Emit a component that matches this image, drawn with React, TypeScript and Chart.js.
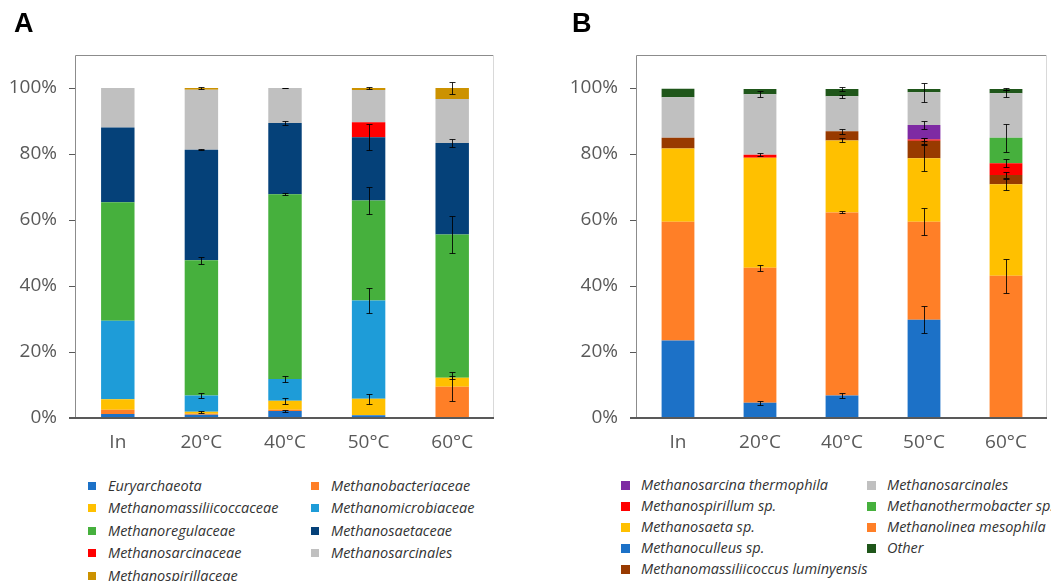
import React, { useEffect, useRef } from "react";
import { Chart, registerables } from "chart.js";
Chart.register(...registerables);

// ---------- shared ----------
const categories = ["In", "20°C", "40°C", "50°C", "60°C"];
const yMax = 110;
const yStep = 20;

// ---------- Panel A (family level), % abundance per stacked segment ----------
const euryarchaeota = [1.2, 1.0, 2.1, 0.8, 0];
const methanobacteriaceae = [1.3, 0.3, 0.4, 0, 9.5];
const methanomassiliicoccaceae = [3.2, 0.6, 2.7, 5.0, 2.7];
const methanomicrobiaceae = [23.8, 4.9, 6.6, 29.8, 0];
const methanoregulaceae = [35.9, 41.0, 56.0, 30.3, 43.4];
const methanosaetaceae = [22.6, 33.5, 21.6, 19.2, 27.7];
const methanosarcinaceae = [0, 0, 0, 4.5, 0];
const methanosarcinalesA = [12.0, 18.2, 10.6, 9.8, 13.4];
const methanospirillaceae = [0, 0.5, 0, 0.6, 3.3];

// error bars (± half-length), drawn at the top of each segment
const euryarchaeotaErr = [0, 0, 0.2, 0, 0];
const methanobacteriaceaeErr = [0, 0, 0, 0, 4.3];
const methanomassiliicoccaceaeErr = [0, 0.3, 1.0, 1.6, 0.5];
const methanomicrobiaceaeErr = [0, 0.7, 0.8, 3.7, 0];
const methanoregulaceaeErr = [0, 1.0, 0.3, 4.2, 5.6];
const methanosaetaceaeErr = [0, 0.2, 0.5, 4.0, 1.3];
const methanosarcinaceaeErr = [0, 0, 0, 0, 0];
const methanosarcinalesAErr = [0, 0, 0.1, 0, 0];
const methanospirillaceaeErr = [0, 0.3, 0, 0.3, 1.8];

// ---------- Panel B (species level) ----------
const methanoculleus = [23.5, 4.6, 6.8, 29.8, 0];
const methanolinea = [36.0, 40.9, 55.5, 29.7, 43.1];
const methanosaeta = [22.2, 33.4, 21.8, 19.2, 27.7];
const methanomassiliicoccusLum = [3.2, 0, 2.8, 5.3, 2.8];
const methanospirillum = [0, 0.9, 0, 0.4, 3.6];
const methanothermobacter = [0, 0, 0, 0, 7.7];
const methanosarcinaTherm = [0, 0, 0, 4.4, 0];
const methanosarcinalesB = [12.3, 18.3, 10.6, 9.9, 13.5];
const other = [2.6, 1.6, 2.2, 1.0, 1.3];

const methanoculleusErr = [0, 0.6, 0.7, 4.1, 0];
const methanolineaErr = [0, 1.0, 0.3, 4.0, 5.2];
const methanosaetaErr = [0, 0, 0.6, 3.9, 1.6];
const methanomassiliicoccusLumErr = [0, 0, 0.8, 1.0, 1.0];
const methanospirillumErr = [0, 0.4, 0, 0.5, 1.2];
const methanothermobacterErr = [0, 0, 0, 0, 4.2];
const methanosarcinaThermErr = [0, 0, 0, 1.3, 0];
const methanosarcinalesBErr = [0, 0.9, 0.4, 2.8, 1.0];
const otherErr = [0, 0, 0.6, 0, 0.2];

type Series = { label: string; data: number[]; errors: number[]; color: string };

const seriesA: Series[] = [
  { label: "Euryarchaeota", data: euryarchaeota, errors: euryarchaeotaErr, color: "#1C71C7" },
  { label: "Methanobacteriaceae", data: methanobacteriaceae, errors: methanobacteriaceaeErr, color: "#FF7F27" },
  { label: "Methanomassiliicoccaceae", data: methanomassiliicoccaceae, errors: methanomassiliicoccaceaeErr, color: "#FFC000" },
  { label: "Methanomicrobiaceae", data: methanomicrobiaceae, errors: methanomicrobiaceaeErr, color: "#1E9CD8" },
  { label: "Methanoregulaceae", data: methanoregulaceae, errors: methanoregulaceaeErr, color: "#46B03D" },
  { label: "Methanosaetaceae", data: methanosaetaceae, errors: methanosaetaceaeErr, color: "#054179" },
  { label: "Methanosarcinaceae", data: methanosarcinaceae, errors: methanosarcinaceaeErr, color: "#FF0000" },
  { label: "Methanosarcinales", data: methanosarcinalesA, errors: methanosarcinalesAErr, color: "#C0C0C0" },
  { label: "Methanospirillaceae", data: methanospirillaceae, errors: methanospirillaceaeErr, color: "#CC9200" },
];

const seriesB: Series[] = [
  { label: "Methanoculleus sp.", data: methanoculleus, errors: methanoculleusErr, color: "#1C71C7" },
  { label: "Methanolinea mesophila", data: methanolinea, errors: methanolineaErr, color: "#FF7F27" },
  { label: "Methanosaeta sp.", data: methanosaeta, errors: methanosaetaErr, color: "#FFC000" },
  { label: "Methanomassiliicoccus luminyensis", data: methanomassiliicoccusLum, errors: methanomassiliicoccusLumErr, color: "#983A00" },
  { label: "Methanospirillum sp.", data: methanospirillum, errors: methanospirillumErr, color: "#FF0000" },
  { label: "Methanothermobacter sp.", data: methanothermobacter, errors: methanothermobacterErr, color: "#46B03D" },
  { label: "Methanosarcina thermophila", data: methanosarcinaTherm, errors: methanosarcinaThermErr, color: "#7E2AA3" },
  { label: "Methanosarcinales", data: methanosarcinalesB, errors: methanosarcinalesBErr, color: "#C0C0C0" },
  { label: "Other", data: other, errors: otherErr, color: "#1F561A" },
];

// legend order, row by row (two columns)
const legendOrderA = [
  "Euryarchaeota", "Methanobacteriaceae",
  "Methanomassiliicoccaceae", "Methanomicrobiaceae",
  "Methanoregulaceae", "Methanosaetaceae",
  "Methanosarcinaceae", "Methanosarcinales",
  "Methanospirillaceae",
];
const legendOrderB = [
  "Methanosarcina thermophila", "Methanosarcinales",
  "Methanospirillum sp.", "Methanothermobacter sp.",
  "Methanosaeta sp.", "Methanolinea mesophila",
  "Methanoculleus sp.", "Other",
  "Methanomassiliicoccus luminyensis",
];

const AXIS_FONT = { family: "'Open Sans', sans-serif", size: 19 };
const AXIS_COLOR = "#595959";

const errorBarPlugin = {
  id: "errorBars",
  afterDatasetsDraw(chart: any) {
    const ctx = chart.ctx;
    const y = chart.scales.y;
    const n = chart.data.labels.length;
    const cum = new Array(n).fill(0);
    ctx.save();
    ctx.strokeStyle = "rgba(0,0,0,0.85)";
    ctx.lineWidth = 1;
    chart.data.datasets.forEach((ds: any, i: number) => {
      const meta = chart.getDatasetMeta(i);
      ds.data.forEach((v: number, j: number) => {
        cum[j] += v;
        const e = ds.errors ? ds.errors[j] : 0;
        if (!e) return;
        const x = Math.round(meta.data[j].x) + 0.5;
        const y1 = Math.round(y.getPixelForValue(cum[j] + e)) + 0.5;
        const y2 = Math.round(y.getPixelForValue(cum[j] - e)) + 0.5;
        ctx.beginPath();
        ctx.moveTo(x, y1);
        ctx.lineTo(x, y2);
        ctx.moveTo(x - 3, y1);
        ctx.lineTo(x + 3, y1);
        ctx.moveTo(x - 3, y2);
        ctx.lineTo(x + 3, y2);
        ctx.stroke();
      });
    });
    ctx.restore();
  },
};

const framePlugin = {
  id: "frame",
  afterDatasetsDraw(chart: any) {
    const { left, right, top, bottom } = chart.chartArea;
    const ctx = chart.ctx;
    ctx.save();
    ctx.lineWidth = 1;
    ctx.strokeStyle = "#8C8C8C";
    ctx.beginPath();
    ctx.moveTo(left - 0.5, bottom);
    ctx.lineTo(left - 0.5, top + 0.5);
    ctx.lineTo(right, top + 0.5);
    ctx.stroke();
    ctx.strokeStyle = "#D9D9D9";
    ctx.beginPath();
    ctx.moveTo(right - 0.5, top);
    ctx.lineTo(right - 0.5, bottom);
    ctx.stroke();
    ctx.strokeStyle = "#595959";
    ctx.lineWidth = 2;
    ctx.beginPath();
    ctx.moveTo(left - 7, bottom);
    ctx.lineTo(right, bottom);
    ctx.stroke();
    ctx.restore();
  },
};

function StackChart({ series, yWidth, padRight, width, height }: { series: Series[]; yWidth: number; padRight: number; width: number; height: number }) {
  const ref = useRef<HTMLCanvasElement | null>(null);
  useEffect(() => {
    if (!ref.current) return;
    const chart = new Chart(ref.current, {
      type: "bar",
      data: {
        labels: categories,
        datasets: series.map((s) => ({
          label: s.label,
          data: s.data,
          errors: s.errors,
          backgroundColor: s.color,
          borderWidth: 0,
          categoryPercentage: 1,
          barPercentage: 0.4,
        })) as any,
      },
      options: {
        responsive: false,
        animation: false,
        devicePixelRatio: 1,
        layout: { padding: { left: 0, top: 55, right: padRight, bottom: 0 } },
        plugins: { legend: { display: false }, tooltip: { enabled: false } },
        scales: {
          x: {
            stacked: true,
            grid: { display: false },
            border: { display: false },
            ticks: { font: AXIS_FONT, color: AXIS_COLOR, padding: 5, maxRotation: 0 },
            afterFit: (s: any) => { s.height = 42; },
          },
          y: {
            stacked: true,
            min: 0,
            max: yMax,
            ticks: { stepSize: yStep, font: AXIS_FONT, color: AXIS_COLOR, padding: 12, callback: (v: any) => v + "%" },
            grid: { drawOnChartArea: false, tickLength: 7, color: AXIS_COLOR, lineWidth: 1 },
            border: { display: false },
            afterBuildTicks: (s: any) => { s.ticks = s.ticks.filter((t: any) => t.value <= 100); },
            afterFit: (s: any) => { s.width = yWidth; },
          },
        },
      },
      plugins: [framePlugin, errorBarPlugin],
    });
    return () => chart.destroy();
  }, []);
  return <canvas ref={ref} width={width} height={height} style={{ width, height, display: "block" }} />;
}

function Legend({ order, series, left, col2, top, rowGap, box }: { order: string[]; series: Series[]; left: number; col2: number; top: number; rowGap: number; box: number }) {
  return (
    <>
      {order.map((name, i) => {
        const s = series.find((x) => x.label === name)!;
        const row = Math.floor(i / 2);
        const col = i % 2;
        const cy = top + row * rowGap;
        return (
          <div key={name} style={{ position: "absolute", left: col === 0 ? left : col2, top: cy - 11, height: 22, display: "flex", alignItems: "center", whiteSpace: "nowrap" }}>
            <span style={{ width: box, height: box, background: s.color, display: "inline-block", marginRight: 14 - box + 6 }} />
            <span style={{ fontFamily: "'Open Sans', sans-serif", fontStyle: "italic", fontSize: 14.5, color: "#333333", lineHeight: "22px" }}>{name}</span>
          </div>
        );
      })}
    </>
  );
}

export default function App() {
  return (
    <div style={{ position: "absolute", left: 0, top: 0, width: 1051, height: 581, overflow: "hidden", background: "#fff" }}>
      <div style={{ position: "absolute", left: 0, top: 0 }}>
        <StackChart series={seriesA} yWidth={76} padRight={26} width={520} height={460} />
      </div>
      <div style={{ position: "absolute", left: 520, top: 0 }}>
        <StackChart series={seriesB} yWidth={117} padRight={4} width={531} height={460} />
      </div>
      <div style={{ position: "absolute", left: 14, top: 10, fontFamily: "'Liberation Sans', Arial, sans-serif", fontWeight: "bold", fontSize: 27, lineHeight: "27px", color: "#000" }}>A</div>
      <div style={{ position: "absolute", left: 572, top: 10, fontFamily: "'Liberation Sans', Arial, sans-serif", fontWeight: "bold", fontSize: 27, lineHeight: "27px", color: "#000" }}>B</div>
      <Legend order={legendOrderA} series={seriesA} left={88} col2={311} top={486} rowGap={22.4} box={8} />
      <Legend order={legendOrderB} series={seriesB} left={621} col2={867} top={485} rowGap={21} box={9} />
    </div>
  );
}
